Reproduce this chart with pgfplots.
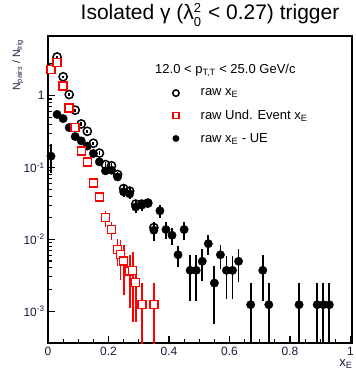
\documentclass[border=0pt]{standalone}
\usepackage{pgfplots}
\pgfplotsset{compat=1.18}
\usepackage{pgfplotstable}
\usepackage{fontspec}
\setmainfont{Liberation Sans}
\definecolor{tickc}{RGB}{25,25,60}
\definecolor{rootred}{RGB}{255,0,0}

\pgfplotstableread{
x y ep em
0.01 2.47 0.08 0.08
0.03 3.47 0.08 0.08
0.05 1.84 0.05 0.05
0.07 1.04 0.04 0.04
0.09 0.63 0.03 0.03
0.11 0.405 0.02 0.02
0.13 0.32 0.015 0.015
0.15 0.218 0.012 0.012
0.17 0.159 0.01 0.01
0.19 0.110 0.009 0.009
0.21 0.106 0.008 0.008
0.23 0.080 0.007 0.007
0.25 0.051 0.006 0.006
0.27 0.047 0.005 0.005
0.29 0.031 0.004 0.004
0.31 0.031 0.004 0.004
0.33 0.032 0.004 0.004
0.35 0.0146 0.003 0.003
}\rawdata

\pgfplotstableread{
x y ep em
0.01 2.33 0.05 0.05
0.03 2.92 0.05 0.05
0.05 1.36 0.03 0.03
0.07 0.68 0.02 0.02
0.09 0.36 0.015 0.015
0.11 0.17 0.01 0.01
0.13 0.12 0.008 0.008
0.15 0.061 0.006 0.006
0.17 0.039 0.006 0.006
0.19 0.0200 0.005 0.005
0.21 0.0137 0.004 0.004
0.23 0.0072 0.003 0.003
0.24 0.0062 0.0035 0.0035
0.25 0.0050 0.0033 0.0033
0.27 0.0036 0.0025 0.0025
0.28 0.0037 0.003 0.003
0.29 0.0025 0.0018 0.0018
0.31 0.00123 0.0012 0.00122
0.35 0.00123 0.0012 0.00122
}\uedata

\pgfplotstableread{
x y ep em
0.01 0.144 0.07 0.06
0.03 0.55 0.06 0.06
0.05 0.48 0.04 0.04
0.07 0.36 0.03 0.03
0.09 0.27 0.02 0.02
0.11 0.235 0.02 0.02
0.13 0.199 0.015 0.015
0.15 0.157 0.012 0.012
0.17 0.120 0.012 0.012
0.19 0.090 0.012 0.012
0.21 0.092 0.010 0.010
0.23 0.074 0.008 0.008
0.25 0.046 0.007 0.007
0.27 0.043 0.006 0.006
0.29 0.0283 0.005 0.005
0.31 0.030 0.005 0.005
0.33 0.032 0.004 0.004
0.35 0.0134 0.004 0.004
0.37 0.025 0.005 0.005
0.39 0.0137 0.0035 0.0035
0.41 0.0114 0.003 0.003
0.43 0.0061 0.002 0.002
0.45 0.0137 0.004 0.004
0.47 0.0037 0.0023 0.0023
0.49 0.0037 0.0023 0.0023
0.51 0.00495 0.0023 0.0023
0.53 0.0087 0.0027 0.0027
0.55 0.00246 0.0018 0.0018
0.57 0.0061 0.0022 0.0022
0.59 0.0037 0.0022 0.0022
0.61 0.0037 0.0022 0.0022
0.63 0.00495 0.0024 0.0024
0.67 0.00123 0.0012 0.00122
0.71 0.0037 0.0023 0.0023
0.73 0.00123 0.0012 0.00122
0.83 0.00123 0.0012 0.00122
0.89 0.00123 0.0012 0.00122
0.91 0.00123 0.0012 0.00122
0.93 0.00123 0.0012 0.00122
}\subdata

\begin{document}
\begin{tikzpicture}
\begin{axis}[
  scale only axis,
  width=304pt, height=307pt,
  ymode=log,
  xmin=0, xmax=1.005,
  ymin=3.6e-4, ymax=6.8,
  axis line style={line width=1.3pt},
  tick style={line width=1.1pt, black},
  tick align=inside,
  xtick pos=bottom, ytick pos=left,
  major tick length=7pt, minor tick length=4pt,
  xtick={0,0.2,0.4,0.6,0.8,1},
  xticklabels={0,0.2,0.4,0.6,0.8,1},
  minor x tick num=3,
  ytick={0.001,0.01,0.1,1},
  yticklabels={10\textsuperscript{-3},10\textsuperscript{-2},10\textsuperscript{-1},1},
  ticklabel style={font=\fontsize{12}{14}\selectfont, text=tickc},
  xticklabel style={yshift=-1pt},
  /pgf/number format/assume math mode=true,
  xlabel={x\textsubscript{E}},
  xlabel style={at={(axis description cs:0.98,0)}, anchor=base, yshift=-23pt, font=\fontsize{13}{15}\selectfont, text=tickc},
  ylabel={N\textsubscript{pairs} / N\textsubscript{trig}},
  ylabel style={at={(axis description cs:-0.099,1.0)}, anchor=east, font=\fontsize{10.5}{12}\selectfont, text=tickc},
  title={Isolated γ (λ\makebox[0pt][l]{\raisebox{0.7ex}{\fontsize{13}{13}\selectfont 2}}\raisebox{-0.6ex}{\fontsize{13}{13}\selectfont 0}\hspace{1pt} < 0.27) trigger},
  title style={at={(axis description cs:0.533,1)}, anchor=base, yshift=10pt, font=\fontsize{21}{24}\selectfont},
  legend style={at={(axis description cs:0.398,0.835)}, anchor=north west, draw=none, fill=none,
     inner sep=0pt, row sep=8.5pt, font=\fontsize{13}{15}\selectfont},
  legend cell align=left,
  legend image code/.code={\path (0pt,0pt) (28pt,0pt); \draw[#1] plot coordinates {(6pt,0pt)};},
  clip=true,
]
% raw xE: error bars, then open circles
\addplot[forget plot, draw=none, mark=none,
  error bars/y dir=both, error bars/y explicit, error bars/error mark=none,
  error bars/error bar style={line width=1.8pt, draw=black, solid}]
  table[x=x, y=y, y error plus=ep, y error minus=em]{\rawdata};
\addplot[forget plot, only marks, color=black, line width=1.5pt, mark=o, mark size=4.1pt]
  table[x=x, y=y]{\rawdata};
% subtracted: error bars, then filled circles
\addplot[forget plot, draw=none, mark=none,
  error bars/y dir=both, error bars/y explicit, error bars/error mark=none,
  error bars/error bar style={line width=1.8pt, draw=black, solid}]
  table[x=x, y=y, y error plus=ep, y error minus=em]{\subdata};
\addplot[forget plot, only marks, color=black, mark=*, mark size=4.2pt]
  table[x=x, y=y]{\subdata};
% underlying event: error bars, then open squares (drawn last)
\addplot[forget plot, draw=none, mark=none,
  error bars/y dir=both, error bars/y explicit, error bars/error mark=none,
  error bars/error bar style={line width=1.8pt, draw=rootred, solid}]
  table[x=x, y=y, y error plus=ep, y error minus=em]{\uedata};
\addplot[forget plot, only marks, color=rootred, line width=1.5pt, mark=square*, mark size=4pt,
  mark options={fill=white}]
  table[x=x, y=y]{\uedata};
\addlegendimage{only marks, color=black, line width=1.5pt, mark=o, mark size=3.2pt}
\addlegendentry{raw x\textsubscript{E}}
\addlegendimage{only marks, color=rootred, line width=1.5pt, mark=square*, mark size=3pt, mark options={fill=white}}
\addlegendentry{raw Und. Event x\textsubscript{E}}
\addlegendimage{only marks, color=black, mark=*, mark size=3.2pt}
\addlegendentry{raw x\textsubscript{E} - UE}
\node[anchor=base west, font=\fontsize{13}{15}\selectfont, inner sep=0pt] at (axis description cs:0.352,0.879)
  {12.0 < p\textsubscript{T,T} < 25.0 GeV/c};
\end{axis}
\pgfresetboundingbox
\path[use as bounding box] (-48pt,-27pt) rectangle (308pt,343pt);
\end{tikzpicture}
\end{document}
